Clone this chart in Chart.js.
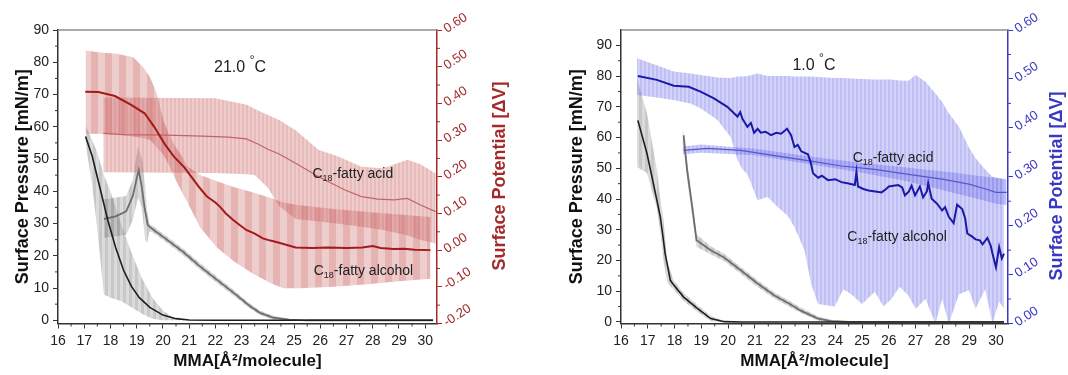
<!DOCTYPE html>
<html>
<head>
<meta charset="utf-8">
<script src="https://cdn.jsdelivr.net/npm/chart.js@4.4.1/dist/chart.umd.min.js"></script>
<style>
  html, body { margin: 0; padding: 0; background: #fff; }
  #wrap { position: relative; width: 1068px; height: 375px; overflow: hidden; }
  canvas { position: absolute; top: 0; }
  #left { left: 0; }
  #right { left: 534px; }
</style>
</head>
<body>
<div id="wrap">
  <canvas id="left" width="534" height="375"></canvas>
  <canvas id="right" width="534" height="375"></canvas>
</div>
<script>
// tick labels
const mmaTicks = [16, 17, 18, 19, 20, 21, 22, 23, 24, 25, 26, 27, 28, 29, 30];
const pressureTicks = [0, 10, 20, 30, 40, 50, 60, 70, 80, 90];
const potentialTicks21 = [-0.2, -0.1, 0, 0.1, 0.2, 0.3, 0.4, 0.5, 0.6];
const potentialTicks1 = [0, 0.1, 0.2, 0.3, 0.4, 0.5, 0.6];

// ---- 21.0 C panel ----  [MMA, value] or [MMA, low, high]
const alcPressure21 = [[17.05,57],[17.3,51],[17.6,41],[17.9,31],[18.2,22.5],[18.5,15.5],[18.8,10.5],[19.1,7],[19.5,4],[20.0,1.6],[20.5,0.5],[21.0,0.1],[22,0],[24,0],[26,0],[28,0],[30.3,0]];
const alcPressureBand21 = [[17.05,55,60.5],[17.3,42,56],[17.5,28,52],[17.75,8,45],[18.0,7,40],[18.4,6,30],[18.8,4,21],[19.2,2,13],[19.6,0.5,7],[20.0,0,3],[20.4,0,0.8],[20.8,0,0.2]];
const acidPressure21 = [[17.75,31.4],[18.2,32.2],[18.6,33.8],[18.85,38.5],[19.0,44],[19.08,46.5],[19.2,41],[19.3,35],[19.42,29.5],[19.6,28.3],[20.15,25],[20.8,21],[21.4,16.8],[22.05,12.6],[22.7,8.5],[23.3,4.5],[23.7,2.3],[24.2,0.8],[24.8,0.2],[25.5,0],[28,0],[30.3,0]];
const acidPressureBand21 = [[17.75,25.5,37.5],[18.6,26.5,38.5],[18.85,31,43.5],[19.05,38,54],[19.2,35,50],[19.32,25,42],[19.4,24,34],[19.48,27.5,30],[19.6,27.3,29.3],[20.15,24,26],[20.8,20,22],[21.4,15.8,17.8],[22.05,11.6,13.6],[22.7,7.6,9.4],[23.3,3.7,5.3],[23.7,1.6,3],[24.2,0.2,1.4],[24.8,0,0.5],[25.5,0,0.1]];
const alcPotential21 = [[17.04,0.432],[17.54,0.431],[18.17,0.42],[18.79,0.396],[19.3,0.373],[19.67,0.336],[20.05,0.291],[20.42,0.255],[20.8,0.227],[21.18,0.191],[21.4,0.17],[21.68,0.146],[22.0,0.13],[22.18,0.118],[22.4,0.1],[22.68,0.082],[22.9,0.07],[23.18,0.055],[23.5,0.045],[23.81,0.032],[24.1,0.026],[24.43,0.02],[25.06,0.007],[25.7,0.006],[26.3,0.007],[27.0,0.006],[27.6,0.007],[28.0,0.011],[28.3,0.006],[28.8,0.003],[29.2,0.004],[29.6,0.001],[30.2,0.0]];
const alcPotentialBand21 = [[17.05,0.317,0.544],[17.6,0.317,0.539],[18.24,0.315,0.535],[18.87,0.31,0.526],[19.26,0.305,0.498],[19.51,0.3,0.471],[19.77,0.28,0.426],[20.02,0.26,0.353],[20.28,0.225,0.307],[20.5,0.19,0.28],[20.78,0.15,0.25],[20.9,0.135,0.23],[21.42,0.062,0.205],[22.06,0.007,0.188],[22.7,-0.03,0.172],[23.45,-0.065,0.157],[24.2,-0.093,0.14],[24.6,-0.104,0.13],[25.2,-0.104,0.122],[26.5,-0.1,0.112],[27.8,-0.093,0.104],[29.0,-0.085,0.097],[30.2,-0.078,0.09]];
const acidPotential21 = [[17.73,0.318],[18.5,0.315],[19.5,0.314],[20.5,0.313],[21.5,0.311],[22.5,0.308],[23.18,0.303],[23.6,0.29],[24.0,0.275],[24.43,0.262],[25.06,0.237],[25.94,0.2],[26.94,0.164],[27.57,0.146],[28.2,0.139],[28.82,0.137],[29.32,0.141],[29.82,0.123],[30.4,0.105]];
const acidPotentialBand21 = [[17.73,0.212,0.416],[22.0,0.21,0.414],[23.2,0.207,0.396],[23.5,0.205,0.385],[24.0,0.17,0.368],[24.43,0.12,0.355],[25.06,0.085,0.327],[25.94,0.078,0.273],[26.69,0.072,0.255],[27.57,0.064,0.227],[28.4,0.055,0.223],[29.32,0.04,0.246],[29.8,0.028,0.235],[30.4,0.018,0.209]];

// ---- 1.0 C panel ----
const alcPressure1 = [[16.63,65.6],[16.97,54.8],[17.21,45],[17.47,34.1],[17.65,22.2],[17.84,13.6],[17.97,12],[18.34,8.1],[18.85,4.4],[19.35,1.1],[19.85,0.1],[20.5,0],[22,0],[25,0],[28,0],[30.3,0]];
const alcPressureBand1 = [[16.6,50.4,79],[16.97,48.5,68],[17.21,41,56],[17.34,37,49.5],[17.47,29,40],[17.59,20,33],[17.72,13,20],[17.97,10.5,13.5],[18.34,6.8,9.4],[18.85,3.3,5.5],[19.35,0.3,1.9],[19.85,0,0.4]];
const acidPressure1 = [[18.34,60.7],[18.47,49.3],[18.66,37.4],[18.82,26.6],[19.35,23.3],[19.85,21],[20.47,16.8],[21.1,12.5],[21.73,8.6],[22.35,5.6],[22.73,3.6],[23.36,1.1],[23.85,0.3],[24.5,0],[27,0],[30.3,0]];
const acidPressureBand1 = [[18.3,58,63],[18.47,46.5,52],[18.66,34.5,40],[18.82,24.5,28.5],[19.35,22,24.6],[19.85,19.8,22.2],[20.47,15.7,17.9],[21.1,11.4,13.6],[21.73,7.6,9.6],[22.35,4.6,6.6],[22.73,2.8,4.6],[23.36,0.4,1.8],[23.85,0,0.7],[24.5,0,0.2]];
const alcPotential1 = [[16.63,0.506],[17.34,0.498],[17.97,0.486],[18.53,0.484],[18.97,0.474],[19.47,0.46],[19.97,0.443],[20.22,0.43],[20.35,0.423],[20.45,0.432],[20.54,0.418],[20.72,0.402],[20.85,0.41],[20.97,0.39],[21.1,0.398],[21.22,0.39],[21.4,0.392],[21.6,0.385],[21.8,0.39],[21.98,0.388],[22.2,0.398],[22.35,0.385],[22.48,0.361],[22.6,0.365],[22.73,0.352],[22.98,0.346],[23.08,0.33],[23.17,0.307],[23.36,0.298],[23.5,0.302],[23.73,0.293],[24.0,0.295],[24.23,0.289],[24.5,0.286],[24.73,0.283],[24.79,0.31],[24.85,0.28],[25.05,0.275],[25.24,0.272],[25.5,0.27],[25.73,0.268],[25.9,0.275],[26.0,0.28],[26.35,0.283],[26.5,0.278],[26.6,0.262],[26.75,0.27],[26.85,0.282],[26.98,0.262],[27.16,0.28],[27.28,0.258],[27.42,0.27],[27.47,0.287],[27.6,0.255],[27.8,0.245],[27.99,0.231],[28.1,0.238],[28.24,0.218],[28.42,0.205],[28.55,0.243],[28.74,0.234],[28.85,0.215],[28.93,0.184],[29.1,0.178],[29.24,0.172],[29.4,0.17],[29.5,0.162],[29.68,0.175],[29.8,0.16],[29.87,0.143],[30.0,0.115],[30.12,0.156],[30.22,0.133],[30.3,0.143]];
const alcPotentialBand1 = [[16.6,0.467,0.542],[17.33,0.462,0.528],[17.97,0.457,0.515],[18.59,0.45,0.511],[18.97,0.44,0.508],[19.6,0.416,0.503],[20.1,0.381,0.502],[20.35,0.334,0.505],[20.54,0.315,0.505],[20.72,0.305,0.506],[21.1,0.252,0.511],[21.47,0.259,0.506],[21.85,0.238,0.506],[22.23,0.22,0.506],[22.48,0.197,0.505],[22.85,0.15,0.505],[23.1,0.081,0.505],[23.36,0.04,0.504],[23.98,0.035,0.502],[24.3,0.07,0.502],[24.6,0.06,0.501],[25.0,0.04,0.5],[25.48,0.065,0.499],[25.8,0.035,0.499],[26.1,0.05,0.499],[26.4,0.075,0.497],[26.73,0.057,0.496],[27.0,0.03,0.508],[27.37,0.05,0.494],[27.74,0.0,0.47],[27.99,0.05,0.453],[28.24,0.0,0.43],[28.62,0.06,0.402],[28.99,0.068,0.36],[29.24,0.03,0.338],[29.6,0.07,0.315],[29.87,0.0,0.3],[30.12,0.045,0.297],[30.3,0.03,0.295]];
const acidPotential1 = [[18.34,0.354],[19.22,0.358],[20.47,0.354],[21.73,0.343],[22.98,0.333],[24.23,0.322],[25.48,0.315],[26.73,0.305],[27.99,0.295],[28.99,0.285],[29.62,0.275],[30.0,0.268],[30.4,0.268]];
const acidPotentialBand1 = [[18.3,0.346,0.362],[19.0,0.349,0.366],[21.0,0.344,0.357],[23.0,0.326,0.342],[25.0,0.308,0.328],[26.5,0.293,0.32],[27.5,0.28,0.314],[28.5,0.266,0.308],[29.3,0.255,0.302],[30.0,0.245,0.298],[30.4,0.242,0.295]];

const FONT = "'Liberation Sans', Arial, sans-serif";

// vertical stripe fill, like the error-bar bands of the original plot
function stripes(rgb, a1, a2, w1, w2) {
  const c = document.createElement('canvas');
  c.width = w1 + w2;
  c.height = 4;
  const g = c.getContext('2d');
  g.fillStyle = 'rgba(' + rgb + ',' + a1 + ')';
  g.fillRect(0, 0, w1, 4);
  g.fillStyle = 'rgba(' + rgb + ',' + a2 + ')';
  g.fillRect(w1, 0, w2, 4);
  return g.createPattern(c, 'repeat');
}

function lineSet(arr, axis, color, width) {
  return { data: arr.map(p => ({x: p[0], y: p[1]})), yAxisID: axis, borderColor: color,
           borderWidth: width, pointRadius: 0, fill: false, tension: 0, order: 0 };
}

function bandSets(arr, axis, color) {
  return [
    { data: arr.map(p => ({x: p[0], y: p[1]})), yAxisID: axis, borderWidth: 0,
      borderColor: 'rgba(0,0,0,0)', pointRadius: 0, fill: false, order: 1 },
    { data: arr.map(p => ({x: p[0], y: p[2]})), yAxisID: axis, borderWidth: 0,
      borderColor: 'rgba(0,0,0,0)', pointRadius: 0, fill: '-1', backgroundColor: color, order: 1 }
  ];
}

function midpoints(ticks) {
  let out = [];
  for (let i = 0; i < ticks.length - 1; i++) out.push((ticks[i] + ticks[i + 1]) / 2);
  return out;
}

// draws text made of pieces: [text, size, baseline shift]
function drawParts(ctx, x, y, parts, color) {
  ctx.fillStyle = color;
  ctx.textBaseline = 'alphabetic';
  ctx.textAlign = 'left';
  parts.forEach(p => {
    ctx.font = p[1] + 'px ' + FONT;
    ctx.fillText(p[0], x, y + p[2]);
    x += ctx.measureText(p[0]).width;
  });
}

const panelDecor = {
  id: 'panelDecor',
  afterDraw(chart, args, o) {
    const ctx = chart.ctx, a = chart.chartArea;
    ctx.save();
    // top frame line
    ctx.strokeStyle = '#8c8c8c';
    ctx.lineWidth = 1.5;
    ctx.beginPath(); ctx.moveTo(a.left, a.top); ctx.lineTo(a.right, a.top); ctx.stroke();

    // minor ticks
    o.minor.forEach(m => {
      const s = chart.scales[m.axis];
      ctx.strokeStyle = m.color;
      ctx.lineWidth = 1;
      m.values.forEach(v => {
        const p = s.getPixelForValue(v);
        ctx.beginPath();
        if (m.axis === 'x') { ctx.moveTo(p, a.bottom); ctx.lineTo(p, a.bottom + 3); }
        else if (m.axis === 'y') { ctx.moveTo(a.left, p); ctx.lineTo(a.left - 3, p); }
        else { ctx.moveTo(a.right, p); ctx.lineTo(a.right + 3, p); }
        ctx.stroke();
      });
    });

    // right axis title, reading upwards
    ctx.save();
    ctx.translate(o.rightTitle.x, o.rightTitle.y);
    ctx.rotate(-Math.PI / 2);
    ctx.font = 'bold 18px ' + FONT;
    ctx.fillStyle = o.rightTitle.color;
    ctx.textAlign = 'center';
    ctx.textBaseline = 'middle';
    ctx.fillText(o.rightTitle.text, 0, 0);
    ctx.restore();

    // annotations
    const sx = chart.scales.x, sy = chart.scales.y;
    o.notes.forEach(n => {
      drawParts(ctx, sx.getPixelForValue(n.x), sy.getPixelForValue(n.y), n.parts, '#222');
    });
    ctx.restore();
  }
};

function buildPanel(id, p) {
  const gray = stripes('125,125,125', 0.28, 0.42, 3, 3);
  const datasets = [
    lineSet(p.alcV, 'y2', p.lineColor, 2),
    lineSet(p.acidV, 'y2', p.thinColor, 1.2),
    lineSet(p.alcP, 'y', '#1e1e1e', 1.6),
    lineSet(p.acidP, 'y', '#6e6e6e', 1.8),
    ...bandSets(p.alcVBand, 'y2', p.alcBandFill),
    ...bandSets(p.acidVBand, 'y2', p.acidBandFill),
    ...bandSets(p.alcPBand, 'y', gray),
    ...bandSets(p.acidPBand, 'y', gray)
  ];

  return new Chart(document.getElementById(id), {
    type: 'line',
    data: { datasets: datasets },
    options: {
      responsive: false,
      animation: false,
      devicePixelRatio: 1,
      events: [],
      layout: { padding: { top: 30, left: 0, right: 0, bottom: 0 } },
      plugins: {
        legend: { display: false },
        tooltip: { enabled: false },
        panelDecor: {
          minor: [
            { axis: 'x', values: midpoints(mmaTicks), color: '#333' },
            { axis: 'y', values: midpoints(pressureTicks), color: '#333' },
            { axis: 'y2', values: midpoints(p.vTicks), color: p.axisColor }
          ],
          rightTitle: { text: 'Surface Potential [\u0394V]', x: p.rightTitleX, y: p.rightTitleY, color: p.axisColor },
          notes: p.notes
        }
      },
      scales: {
        x: {
          type: 'linear', min: 16, max: 30.45,
          afterBuildTicks: s => { s.ticks = mmaTicks.map(v => ({value: v})); },
          afterFit: s => { s.height = 51.5; },
          grid: { drawOnChartArea: false, tickLength: 5, tickColor: '#333' },
          border: { color: '#333', width: 1.5 },
          ticks: { color: '#222', font: { family: FONT, size: 14 }, padding: 4, maxRotation: 0, autoSkip: false },
          title: { display: true, text: 'MMA[\u00c5\u00b2/molecule]', color: '#111',
                   font: { family: FONT, size: 17, weight: 'bold' }, padding: { top: 0, bottom: 3 } }
        },
        y: {
          position: 'left', min: p.pMin, max: p.pMax,
          afterBuildTicks: s => { s.ticks = pressureTicks.map(v => ({value: v})); },
          afterFit: s => { s.width = p.leftWidth; },
          grid: { drawOnChartArea: false, tickLength: 5, tickColor: '#333' },
          border: { color: '#333', width: 1.5 },
          ticks: { color: '#222', font: { family: FONT, size: 14 }, padding: 4 },
          title: { display: true, text: 'Surface Pressure [mN/m]', color: '#111',
                   font: { family: FONT, size: 18, weight: 'bold' }, padding: { top: p.leftTitlePad } }
        },
        y2: {
          position: 'right', min: p.vTicks[0], max: p.vTicks[p.vTicks.length - 1],
          afterBuildTicks: s => { s.ticks = p.vTicks.map(v => ({value: v})); },
          afterFit: s => { s.width = p.rightWidth; },
          grid: { drawOnChartArea: false, tickLength: 5, tickColor: p.axisColor },
          border: { color: p.axisColor, width: 1.5 },
          ticks: { color: p.axisColor, font: { family: FONT, size: 13 }, padding: 3,
                   minRotation: 33, maxRotation: 33, callback: v => v.toFixed(2) }
        }
      }
    },
    plugins: [panelDecor]
  });
}

buildPanel('left', {
  alcP: alcPressure21, alcPBand: alcPressureBand21,
  acidP: acidPressure21, acidPBand: acidPressureBand21,
  alcV: alcPotential21, alcVBand: alcPotentialBand21,
  acidV: acidPotential21, acidVBand: acidPotentialBand21,
  vTicks: potentialTicks21, pMin: -1, pMax: 90,
  lineColor: '#a31a1a', thinColor: '#c46464', axisColor: '#a32a2a',
  alcBandFill: stripes('200,90,90', 0.3, 0.46, 7, 7),
  acidBandFill: stripes('200,90,90', 0.3, 0.42, 2, 2),
  leftWidth: 58, leftTitlePad: 12, rightWidth: 97,
  rightTitleX: 500, rightTitleY: 176,
  notes: [
    { x: 21.95, y: 77, parts: [['21.0 ', 16, 0], ['\u00b0', 12, -8], ['C', 16, 0]] },
    { x: 25.7, y: 44, parts: [['C', 14, 0], ['18', 9, 3], ['-fatty acid', 14, 0]] },
    { x: 25.75, y: 14, parts: [['C', 14, 0], ['18', 9, 3], ['-fatty alcohol', 14, 0]] }
  ]
});

buildPanel('right', {
  alcP: alcPressure1, alcPBand: alcPressureBand1,
  acidP: acidPressure1, acidPBand: acidPressureBand1,
  alcV: alcPotential1, alcVBand: alcPotentialBand1,
  acidV: acidPotential1, acidVBand: acidPotentialBand1,
  vTicks: potentialTicks1, pMin: -0.5, pMax: 95,
  lineColor: '#1a1aa6', thinColor: '#5656cc', axisColor: '#3838c4',
  alcBandFill: stripes('110,110,235', 0.3, 0.44, 2, 2),
  acidBandFill: stripes('110,110,235', 0.34, 0.46, 2, 2),
  leftWidth: 87, leftTitlePad: 32, rightWidth: 60,
  rightTitleX: 523, rightTitleY: 186,
  notes: [
    { x: 22.4, y: 82, parts: [['1.0 ', 16, 0], ['\u00b0', 12, -8], ['C', 16, 0]] },
    { x: 24.65, y: 52, parts: [['C', 14, 0], ['18', 9, 3], ['-fatty acid', 14, 0]] },
    { x: 24.45, y: 26.5, parts: [['C', 14, 0], ['18', 9, 3], ['-fatty alcohol', 14, 0]] }
  ]
});
</script>
</body>
</html>
